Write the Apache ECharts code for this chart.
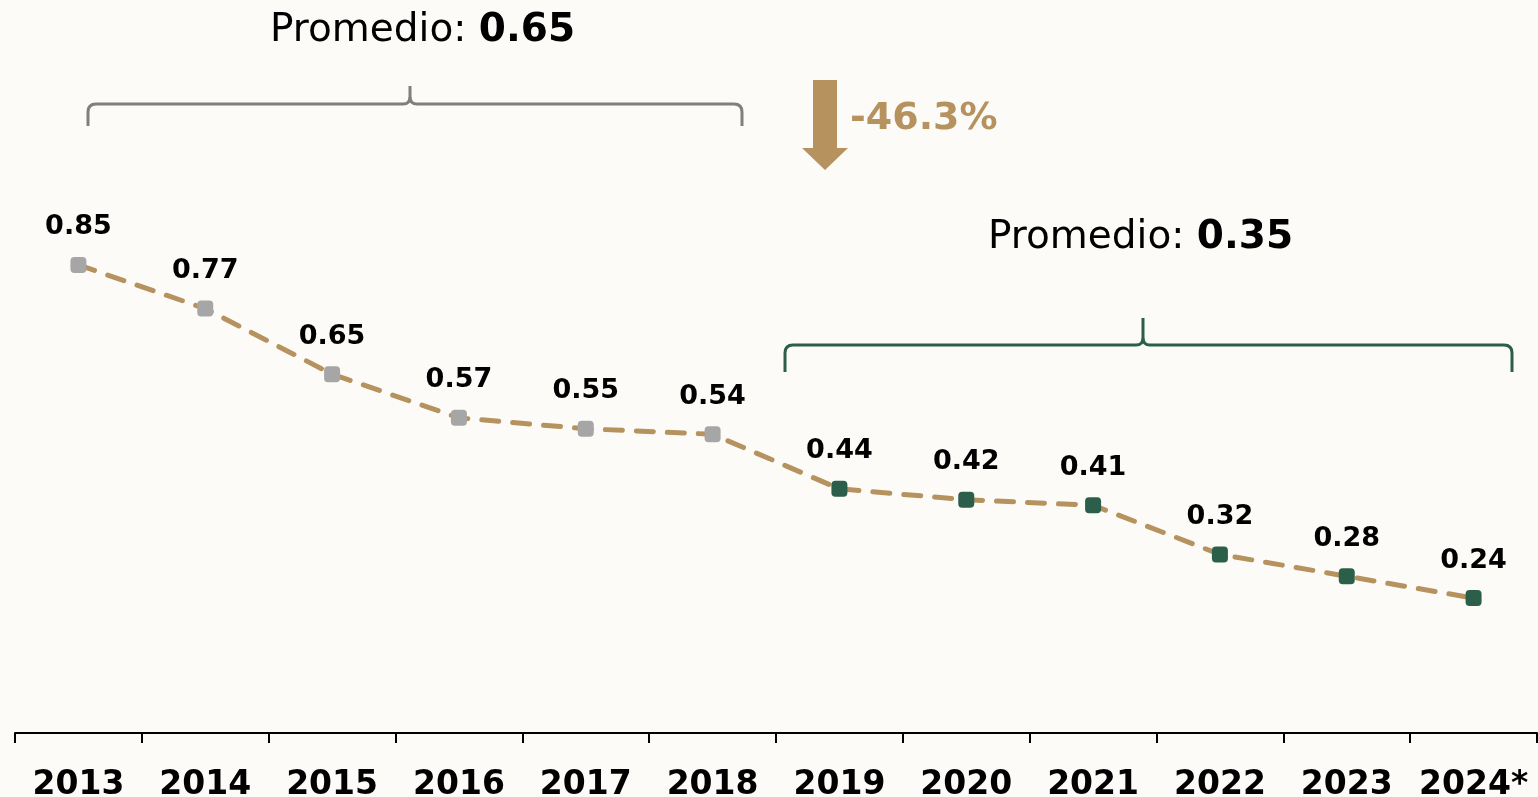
<!DOCTYPE html>
<html lang="es">
<head>
<meta charset="utf-8" />
<script src="https://cdn.jsdelivr.net/npm/echarts@6/dist/echarts.min.js"></script>
<style>
  html, body { margin: 0; padding: 0; background: #fcfbf8; }
  #chart { width: 1538px; height: 797px; }
</style>
</head>
<body>
<div id="chart"></div>
<script>
    var years = ["2013", "2014", "2015", "2016", "2017", "2018", "2019", "2020", "2021", "2022", "2023", "2024*"];
    var values = [0.85, 0.77, 0.65, 0.57, 0.55, 0.54, 0.44, 0.42, 0.41, 0.32, 0.28, 0.24];
    var periodOf = ["a", "a", "a", "a", "a", "a", "b", "b", "b", "b", "b", "b"];
    var avgBefore = "0.65", avgAfter = "0.35", change = "-46.3%";

    var gold = "#b6925f", grey = "#a6a6a6", green = "#2b5f4b", bracketGrey = "#7f7f7f";
    var font = "'DejaVu Sans', sans-serif";

    // datos con color de marcador segun periodo
    var points = values.map(function(v, i){
        return { value: v, itemStyle: { color: periodOf[i] === "a" ? grey : green } };
    });

    // llave horizontal (x1..x2 en y, punta hacia arriba en xm)
    function bracket(x1, x2, xm, y, drop, tip, color){
        var r = 8, st = { stroke: color, lineWidth: 3, fill: null };
        function ln(a, b, c, d){ return { type: "line", shape: { x1: a, y1: b, x2: c, y2: d }, style: st, z: 10 }; }
        function bz(a, b, c, d, cx, cy){ return { type: "bezierCurve", shape: { x1: a, y1: b, x2: c, y2: d, cpx1: cx, cpy1: cy }, style: st, z: 10 }; }
        return {
            type: "group",
            children: [
                ln(x1, y + drop, x1, y + r),
                bz(x1, y + r, x1 + r, y, x1, y),
                ln(x1 + r, y, xm - 7, y),
                bz(xm - 7, y, xm, y - 7, xm, y),
                ln(xm, y - 7, xm, y - tip),
                bz(xm + 7, y, xm, y - 7, xm, y),
                ln(xm + 7, y, x2 - r, y),
                bz(x2 - r, y, x2, y + r, x2, y),
                ln(x2, y + r, x2, y + drop)
            ]
        };
    }

    var richAvg = {
        r: { fontFamily: font, fontSize: 39, fill: "#000" },
        b: { fontFamily: font, fontSize: 39, fontWeight: "bold", fill: "#000" }
    };

    var option = {
        backgroundColor: "#fcfbf8",
        animation: false,
        grid: { left: 15, right: 1, top: 183, bottom: 64, outerBoundsMode: "none", containLabel: false },
        xAxis: {
            type: "category",
            data: years,
            axisLine: { onZero: false, lineStyle: { color: "#000", width: 2 } },
            axisTick: { show: true, interval: 0, length: 10, lineStyle: { color: "#000", width: 2 } },
            axisLabel: { interval: 0, color: "#000", fontFamily: font, fontWeight: "bold", fontSize: 33, margin: 36 }
        },
        yAxis: { type: "value", min: -0.007, max: 1, show: false, splitLine: { show: false } },
        series: [{
            type: "line",
            data: points,
            symbol: "roundRect",
            symbolSize: 16,
            lineStyle: { color: gold, width: 5, type: [17, 14], cap: "round" },
            label: {
                show: true, position: "top", distance: 16,
                color: "#000", fontFamily: font, fontWeight: "bold", fontSize: 27,
                formatter: function(p){ return p.value.toFixed(2); }
            },
            z: 5
        }],
        graphic: [
            {
                type: "text", left: 270, top: 11,
                style: { rich: richAvg, text: "{r|Promedio: }{b|" + avgBefore + "}" }
            },
            bracket(88, 742, 410, 104, 22, 18, bracketGrey),
            {
                type: "text", left: 988, top: 218,
                style: { rich: richAvg, text: "{r|Promedio: }{b|" + avgAfter + "}" }
            },
            bracket(785, 1512, 1143, 345, 27, 27, green),
            {
                type: "polygon",
                shape: { points: [[813, 80], [837, 80], [837, 148], [848, 148], [825, 170], [802, 148], [813, 148]] },
                style: { fill: gold }
            },
            {
                type: "text", left: 850, top: 100,
                style: { text: change, fontFamily: font, fontSize: 38, fontWeight: "bold", fill: gold }
            }
        ]
    };

    var chart = echarts.init(document.getElementById("chart"));
    chart.setOption(option);
</script>
</body>
</html>
